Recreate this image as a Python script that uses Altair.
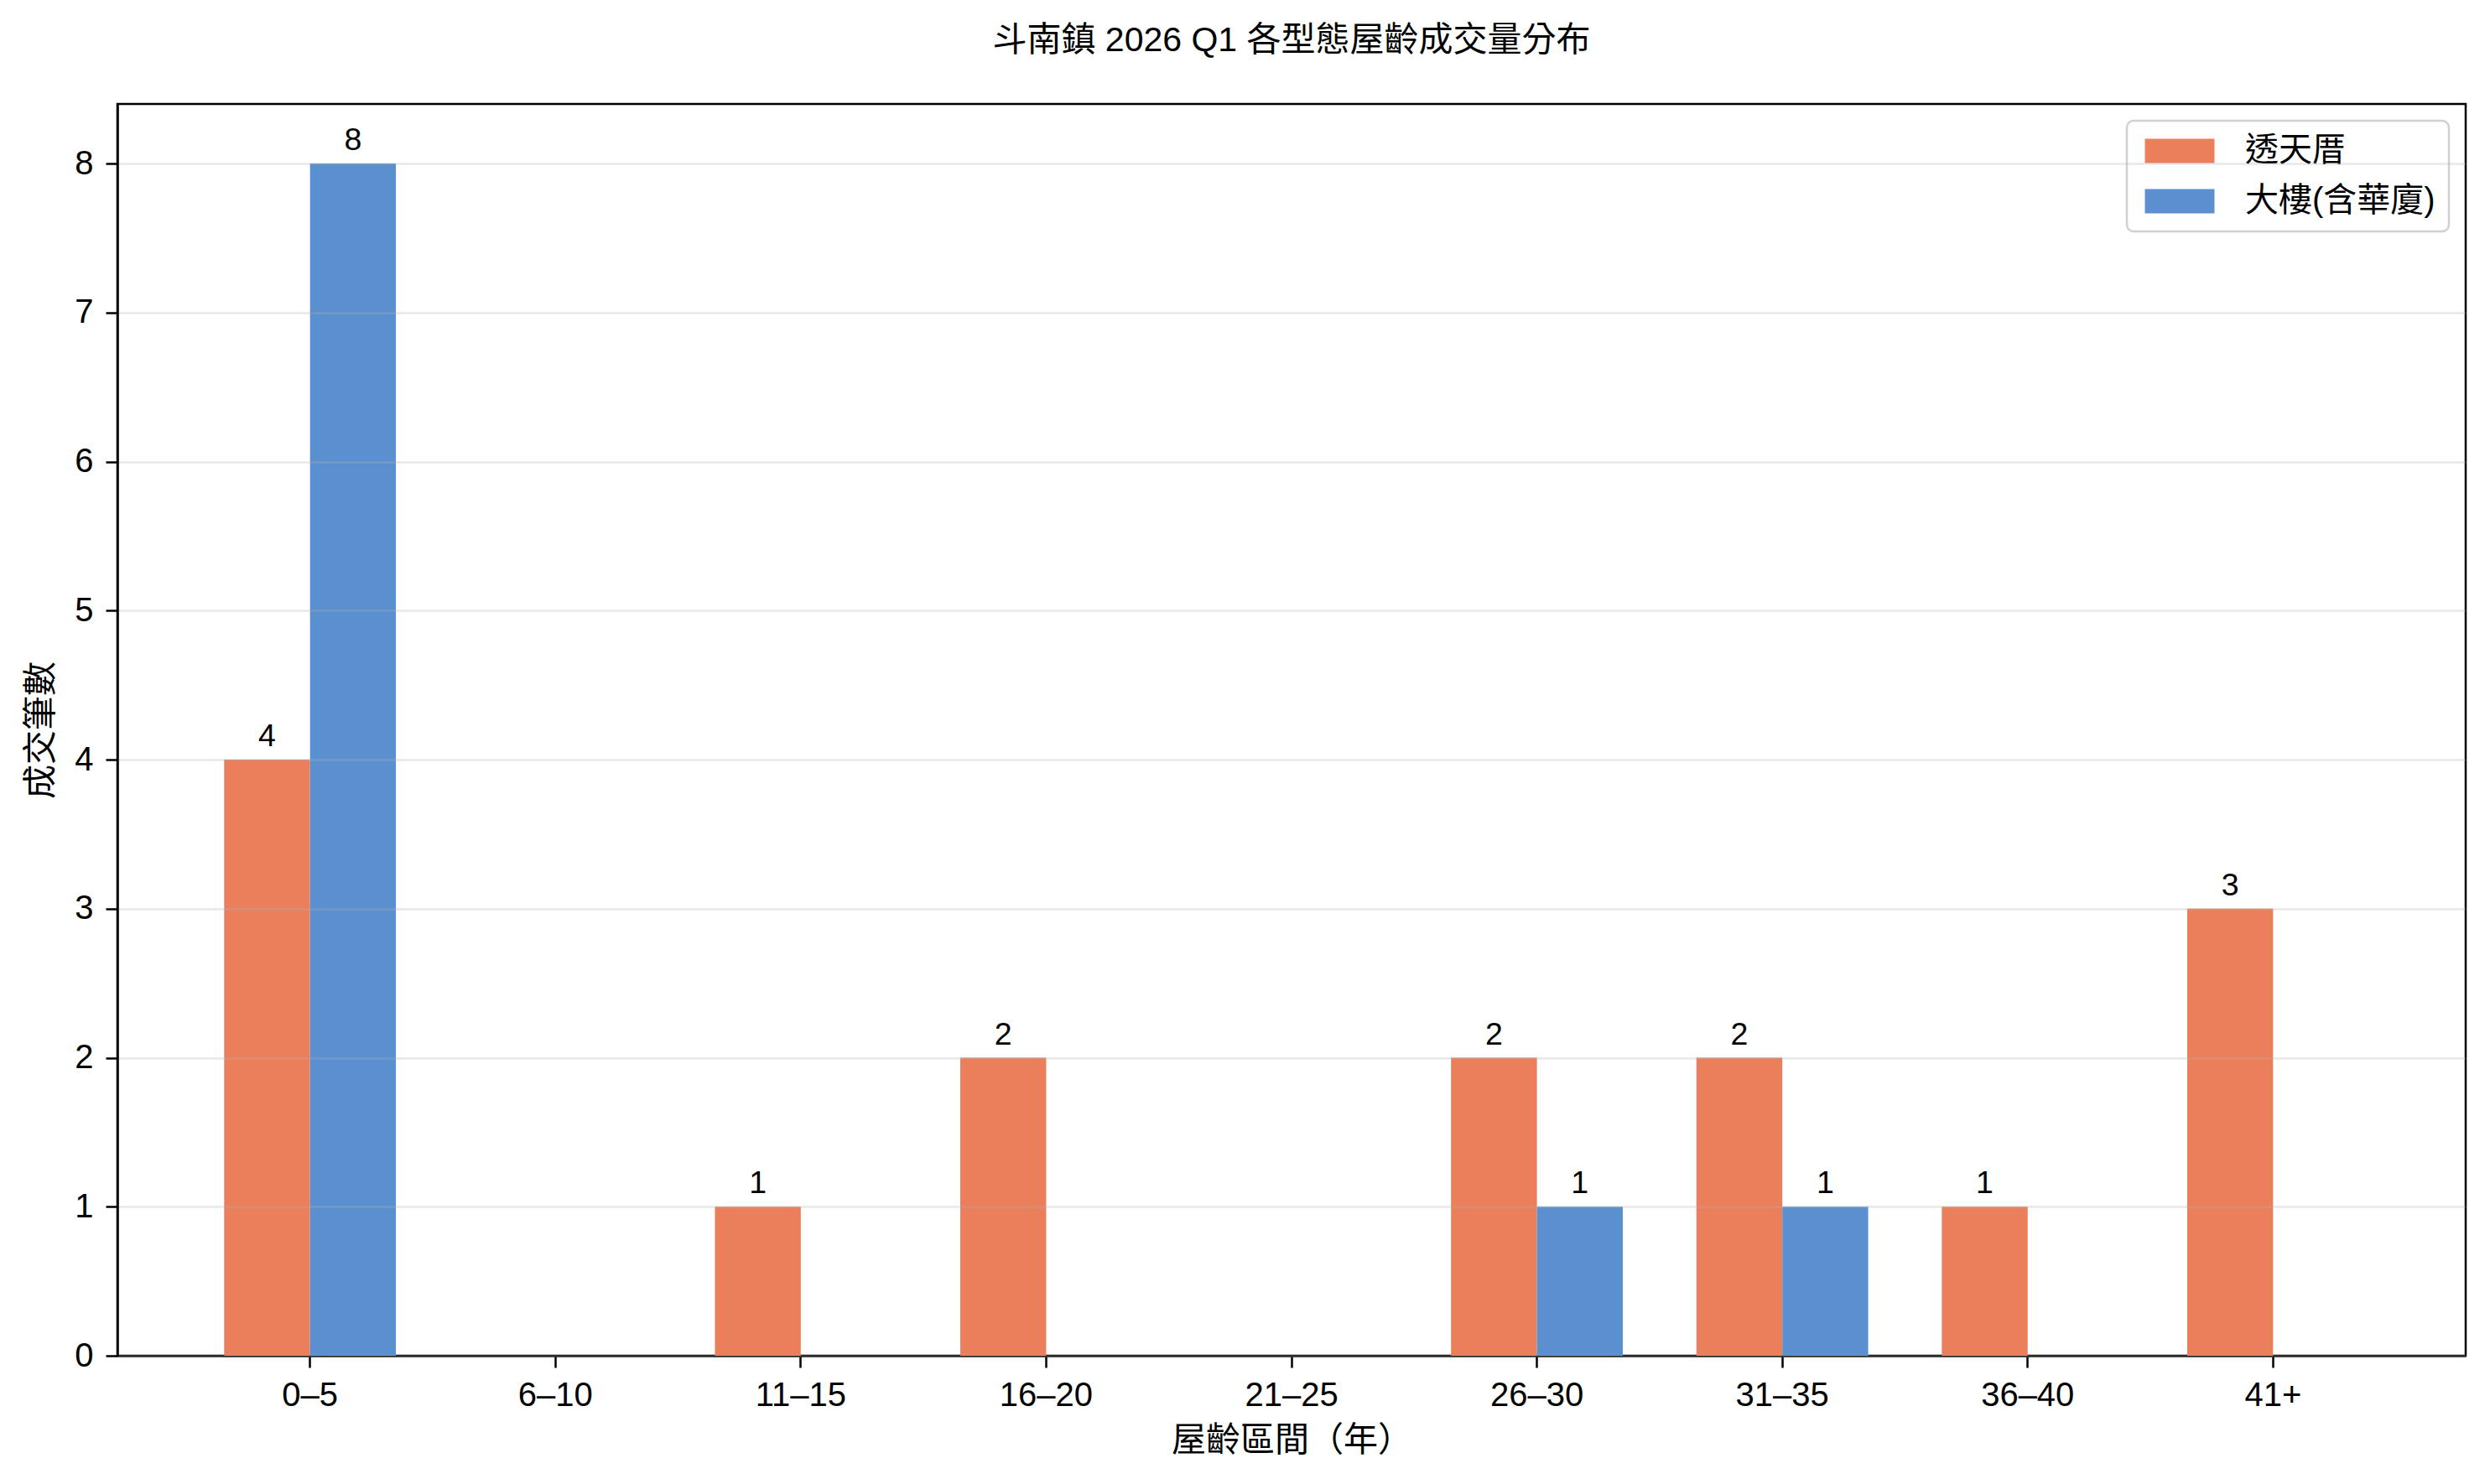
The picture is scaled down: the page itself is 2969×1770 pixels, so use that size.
import altair as alt
import pandas as pd

categories = ["0–5", "6–10", "11–15", "16–20", "21–25", "26–30", "31–35", "36–40", "41+"]
townhouse = [4, 0, 1, 2, 0, 2, 2, 1, 3]
building = [8, 0, 0, 0, 0, 1, 1, 0, 0]
series = ["透天厝", "大樓(含華廈)"]
colors = ["#EC7F5B", "#5A90CF"]
y_ticks = [0, 1, 2, 3, 4, 5, 6, 7, 8]

rows = []
for c, t, b in zip(categories, townhouse, building):
    rows.append({"cat": c, "type": series[0], "n": t})
    rows.append({"cat": c, "type": series[1], "n": b})
df = pd.DataFrame(rows)

FONT = "Liberation Sans, Noto Sans CJK TC"

x_enc = alt.X(
    "cat:N",
    sort=categories,
    scale=alt.Scale(paddingInner=0.3, paddingOuter=0.435),
    axis=alt.Axis(title="屋齡區間（年）", labelAngle=0, tickSize=14,
                  labelPadding=13, titlePadding=14, grid=False),
)
xo_enc = alt.XOffset("type:N", sort=series, scale=alt.Scale(domain=series))
y_enc = alt.Y(
    "n:Q",
    scale=alt.Scale(domain=[0, 8.4], nice=False, zero=True),
    axis=alt.Axis(values=y_ticks, format="d", title="成交筆數", grid=True, zindex=1,
                  tickSize=14, labelPadding=15, titlePadding=18,
                  gridColor="#b0b0b0", gridOpacity=0.3, gridWidth=2.5),
)

sym = "M-2.862,-1L2.862,-1L2.862,1L-2.862,1Z"

bars = alt.Chart(df).mark_bar().encode(
    x=x_enc,
    xOffset=xo_enc,
    y=y_enc,
    color=alt.Color(
        "type:N",
        sort=series,
        scale=alt.Scale(domain=series, range=colors),
        legend=alt.Legend(
            title=None, orient="top-right", offset=20,
            symbolType=sym, symbolSize=841, symbolOffset=27,
            symbolStrokeWidth=0, symbolOpacity=1,
            labelOffset=58, labelFontSize=40, labelFont=FONT, labelColor="black",
            labelLimit=600,
            rowPadding=20, padding=16,
            strokeColor="#d0d0d0", cornerRadius=8,
            fillColor="rgba(255,255,255,0.8)",
        ),
    ),
)

labels = alt.Chart(df).transform_filter("datum.n > 0").mark_text(
    baseline="alphabetic", dy=-16, fontSize=37.5, font=FONT, color="black"
).encode(
    x=alt.X("cat:N", sort=categories),
    xOffset=alt.XOffset("type:N", sort=series),
    y=alt.Y("n:Q"),
    text=alt.Text("n:Q"),
)

chart = alt.layer(bars, labels).properties(
    width=2800,
    height=1493,
    autosize="none",
    padding={"left": 132, "top": 116, "right": 15, "bottom": 135},
    title=alt.TitleParams(
        "斗南鎮 2026 Q1 各型態屋齡成交量分布",
        fontSize=41, fontWeight="normal", font=FONT, color="black",
        baseline="alphabetic", offset=22, anchor="middle",
    ),
).configure_view(
    stroke="black", strokeWidth=2.5
).configure_axis(
    labelFont=FONT, titleFont=FONT, labelFontSize=40, titleFontSize=41,
    labelColor="black", titleColor="black", titleFontWeight="normal",
    tickColor="black", domainColor="black", tickWidth=2.5, domainWidth=2.5,
).configure_legend(
    strokeWidth=2.5
)

chart.save("out.html", embed_options={"renderer": "svg", "actions": False})
